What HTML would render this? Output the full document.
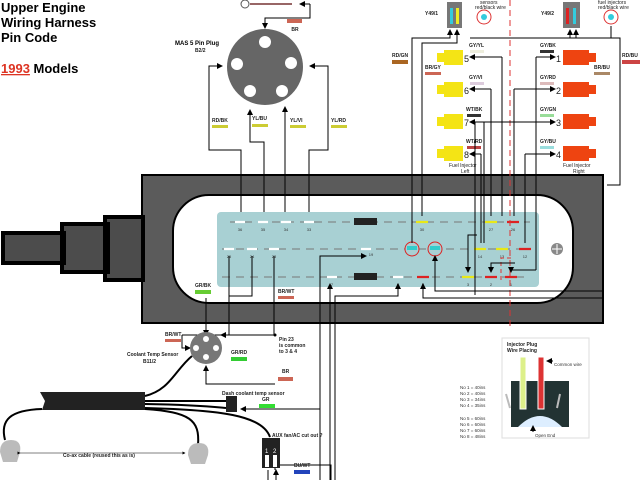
<!DOCTYPE html>
<html><head><meta charset="utf-8"><style>
body{margin:0;background:#fff}
svg{display:block;font-family:"Liberation Sans",sans-serif}
.t{font-size:5px;font-weight:bold;fill:#222}
</style></head><body>
<svg width="640" height="480" viewBox="0 0 640 480">
<defs>
<marker id="a" markerWidth="6" markerHeight="6" refX="5" refY="3" orient="auto"><path d="M0,0L6,3L0,6z" fill="#000"/></marker>
</defs>
<text x="1" y="12" font-size="13" font-weight="bold">Upper Engine</text>
<text x="1" y="27" font-size="13" font-weight="bold">Wiring Harness</text>
<text x="1" y="42" font-size="13" font-weight="bold">Pin Code</text>
<text x="1" y="73" font-size="13" font-weight="bold"><tspan fill="#d32" text-decoration="underline">1993</tspan> Models</text>

<rect x="142" y="175" width="461" height="148" fill="#5b5b5b" stroke="#000" stroke-width="2"/>
<rect x="173" y="195" width="400" height="108" rx="36" fill="#fff" stroke="#000" stroke-width="2"/>
<rect x="217" y="212" width="322" height="75" rx="4" fill="#a8d0d3"/>
<path d="M105,217H143V280H105zM62,224H108V272H62zM3,233H64V263H3z" fill="#4c4c4c" stroke="#000" stroke-width="4"/>

<g stroke="#777" stroke-width="1" stroke-dasharray="8,6">
<line x1="230" y1="222" x2="530" y2="222"/><line x1="222" y1="249" x2="530" y2="249"/><line x1="222" y1="277" x2="530" y2="277"/>
</g>
<g stroke-width="2.2">
<g stroke="#fff"><path d="M235,222h10M258,222h10M281,222h10M304,222h10M224,249h10M247,249h10M269,249h10M361,249h10M327,277h10M393,277h10"/></g>
<g stroke="#e8e817"><path d="M416,222h12M485,222h12M474,249h12M496,249h12M462,277h12"/></g>
<g stroke="#d22"><path d="M507,222h12M519,249h12M417,277h12M485,277h12M505,277h12"/></g>
</g>
<rect x="354" y="218" width="23" height="7" fill="#222"/><rect x="354" y="273" width="23" height="7" fill="#222"/>
<circle cx="412" cy="249" r="7" fill="#a8d0d3" stroke="#d22"/><rect x="407" y="246" width="10" height="4" fill="#3cc"/>
<circle cx="435" cy="249" r="7" fill="#a8d0d3" stroke="#d22"/><rect x="430" y="246" width="10" height="4" fill="#3cc"/>
<circle cx="557" cy="249" r="6" fill="#888"/><path d="M557,244v10M552,249h10" stroke="#fff"/>
<g font-size="4" fill="#333" text-anchor="middle">
<text x="240" y="231">36</text><text x="263" y="231">35</text><text x="286" y="231">34</text><text x="309" y="231">33</text><text x="422" y="231">30</text><text x="491" y="231">27</text><text x="513" y="231">26</text>
<text x="229" y="258">25</text><text x="252" y="258">24</text><text x="274" y="258">23</text><text x="371" y="256">19</text><text x="480" y="258">14</text><text x="502" y="258">13</text><text x="525" y="258">12</text>
<text x="332" y="286">7</text><text x="398" y="286">6</text><text x="423" y="286">5</text><text x="468" y="286">3</text><text x="491" y="286">2</text><text x="511" y="286">1</text>
</g>
<line x1="510" y1="0" x2="510" y2="330" stroke="#d33" stroke-dasharray="6,4"/>
<path d="M511,258h-10v22" stroke="#d33" fill="none" stroke-dasharray="4,3"/>

<circle cx="245" cy="4" r="4" fill="none" stroke="#555"/><line x1="250" y1="4" x2="292" y2="4" stroke="#733" stroke-width="1.5"/>
<path d="M310,4H300" stroke="#000" marker-end="url(#a)"/><path d="M310,4V18H265V28" stroke="#000" fill="none" marker-end="url(#a)"/>
<rect x="287" y="19" width="15" height="4" fill="#c65"/><text x="295" y="31" class="t" text-anchor="middle">BR</text>
<text x="175" y="45" font-size="6" font-weight="bold">MAS 5 Pin Plug</text><text x="195" y="52" class="t">B2/2</text>
<circle cx="265" cy="67" r="38" fill="#666"/>
<g fill="#fff"><circle cx="265" cy="42" r="6"/><circle cx="291" cy="63" r="6"/><circle cx="282" cy="91" r="6"/><circle cx="250" cy="91" r="6"/><circle cx="237" cy="64" r="6"/></g>
<g stroke="#000" fill="none">
<path d="M241,212V150H209V66H222" marker-end="url(#a)"/>
<path d="M264,212V142H250V110" marker-end="url(#a)"/>
<path d="M285,212V107" marker-end="url(#a)"/>
<path d="M309,212V150H328V66H310" marker-end="url(#a)"/>
</g>
<g class="t"><text x="212" y="122">RD/BK</text><text x="252" y="120">YL/BU</text><text x="290" y="122">YL/VI</text><text x="331" y="122">YL/RD</text></g>
<g fill="#cc3"><rect x="212" y="125" width="16" height="3"/><rect x="252" y="124" width="16" height="3"/><rect x="290" y="125" width="16" height="3"/><rect x="331" y="125" width="16" height="3"/></g>

<g fill="#f4e415"><rect x="444" y="50" width="19" height="15"/><rect x="437" y="53" width="8" height="9"/>
<rect x="444" y="82" width="19" height="15"/><rect x="437" y="85" width="8" height="9"/>
<rect x="444" y="114" width="19" height="15"/><rect x="437" y="117" width="8" height="9"/>
<rect x="444" y="146" width="19" height="15"/><rect x="437" y="149" width="8" height="9"/></g>
<g fill="#e41"><rect x="563" y="50" width="26" height="15"/><rect x="588" y="53" width="8" height="9"/>
<rect x="563" y="82" width="26" height="15"/><rect x="588" y="85" width="8" height="9"/>
<rect x="563" y="114" width="26" height="15"/><rect x="588" y="117" width="8" height="9"/>
<rect x="563" y="146" width="26" height="15"/><rect x="588" y="149" width="8" height="9"/></g>
<g font-size="9" fill="#222"><text x="464" y="62">5</text><text x="464" y="94">6</text><text x="464" y="126">7</text><text x="464" y="158">8</text>
<text x="556" y="62">1</text><text x="556" y="94">2</text><text x="556" y="126">3</text><text x="556" y="158">4</text></g>
<g class="t"><text x="469" y="47">GY/YL</text><text x="469" y="79">GY/VI</text><text x="466" y="111">WT/BK</text><text x="466" y="143">WT/RD</text>
<text x="540" y="47">GY/BK</text><text x="540" y="79">GY/RD</text><text x="540" y="111">GY/GN</text><text x="540" y="143">GY/BU</text>
<text x="392" y="57">RD/GN</text><text x="425" y="69">BR/GY</text><text x="594" y="69">BR/BU</text><text x="622" y="57">RD/BU</text>
<text x="449" y="167" font-weight="normal">Fuel Injector</text><text x="461" y="173" font-weight="normal">Left</text>
<text x="563" y="167" font-weight="normal">Fuel Injector</text><text x="573" y="173" font-weight="normal">Right</text>
<text x="425" y="15">Y49/1</text><text x="541" y="15">Y49/2</text>
<text x="480" y="4" font-weight="normal">sensors</text><text x="475" y="9" font-weight="normal">red/black wire</text>
<text x="598" y="4" font-weight="normal">fuel injectors</text><text x="598" y="9" font-weight="normal">red/black wire</text>
</g>
<rect x="470" y="50" width="14" height="3" fill="#eed"/><rect x="470" y="82" width="14" height="3" fill="#dcd"/><rect x="467" y="114" width="14" height="3" fill="#333"/><rect x="467" y="146" width="14" height="3" fill="#b44"/>
<rect x="540" y="50" width="14" height="3" fill="#333"/><rect x="540" y="82" width="14" height="3" fill="#dbb"/><rect x="540" y="114" width="14" height="3" fill="#9d9"/><rect x="540" y="146" width="14" height="3" fill="#9dd"/>
<rect x="392" y="60" width="16" height="4" fill="#a62"/><rect x="425" y="72" width="16" height="3" fill="#c65"/><rect x="594" y="72" width="16" height="3" fill="#a86"/><rect x="622" y="60" width="18" height="4" fill="#c44"/>
<rect x="447" y="2" width="15" height="26" fill="#777"/><rect x="450" y="8" width="3" height="16" fill="#3cd"/><rect x="456" y="8" width="3" height="16" fill="#ee2"/>
<rect x="563" y="2" width="17" height="26" fill="#777"/><rect x="566" y="8" width="3" height="16" fill="#d22"/><rect x="573" y="8" width="3" height="16" fill="#3cd"/>
<circle cx="484" cy="17" r="7" fill="#fff" stroke="#d33"/><circle cx="484" cy="17" r="3" fill="#3cd"/>
<circle cx="611" cy="17" r="7" fill="#fff" stroke="#d33"/><circle cx="611" cy="17" r="3" fill="#3cd"/>
<g stroke="#000" fill="none">
<path d="M412,243V38H450V30" marker-end="url(#a)"/><path d="M422,216V43H457V30" marker-end="url(#a)"/>
<path d="M570,38V30" marker-end="url(#a)"/><path d="M470,38H576V30" marker-end="url(#a)"/>
<path d="M500,38H620V185H607" /><path d="M611,26V38H620"/>
<path d="M502,57V216" /><path d="M502,57H470" marker-end="url(#a)"/>
<path d="M491,89V216"/><path d="M491,89H470" marker-end="url(#a)"/>
<path d="M484,122V243"/><path d="M484,122H470" marker-end="url(#a)"/>
<path d="M481,154V243"/><path d="M481,154H470" marker-end="url(#a)"/>
<path d="M536,57H555" marker-end="url(#a)"/><path d="M536,57V270"/>
<path d="M514,89H555" marker-end="url(#a)"/><path d="M514,89V216"/>
<path d="M525,154H555" marker-end="url(#a)"/><path d="M525,154V243"/>
<path d="M475,122H555" marker-end="url(#a)"/><path d="M475,122V295"/>
<path d="M477,235H468V272" marker-end="url(#a)"/><path d="M515,263H491V272" marker-end="url(#a)"/><path d="M536,270H511V272" marker-end="url(#a)"/>
<path d="M603,291H435V256" marker-end="url(#a)"/><path d="M603,298H423V284" marker-end="url(#a)"/>
<path d="M335,480V296H398V284" marker-end="url(#a)"/><path d="M330,480V284" marker-end="url(#a)"/>
<path d="M320,480V256H366" marker-end="url(#a)"/>
</g>
<text x="195" y="287" class="t">GR/BK</text><rect x="195" y="290" width="16" height="4" fill="#6c3"/>
<text x="278" y="293" class="t">BR/WT</text><rect x="278" y="296" width="16" height="3" fill="#c65"/>
<g stroke="#000" fill="none">
<path d="M206,298V335" marker-end="url(#a)"/>
<path d="M229,256V335H221" marker-end="url(#a)"/>
<path d="M252,256V296H229"/>
<path d="M274,256V335"/><path d="M182,335H275"/><path d="M182,335V348H190" marker-end="url(#a)"/>
<path d="M275,384H206V366" marker-end="url(#a)"/>
<path d="M320,409H241" marker-end="url(#a)"/>
<path d="M331,480V465H275V470"/>
</g>
<circle cx="275" cy="335" r="1.5"/>
<text x="165" y="336" class="t">BR/WT</text><rect x="165" y="339" width="16" height="3" fill="#c65"/>
<text x="127" y="356" class="t">Coolant Temp Sensor</text><text x="143" y="363" class="t">B11/2</text>
<text x="231" y="354" class="t">GR/RD</text><rect x="231" y="357" width="16" height="4" fill="#3c3"/>
<text x="279" y="341" class="t">Pin 23</text><text x="279" y="347" class="t">is common</text><text x="279" y="353" class="t">to 3 &amp; 4</text>
<text x="282" y="373" class="t">BR</text><rect x="278" y="377" width="15" height="4" fill="#c65"/>
<text x="222" y="395" class="t">Dash coolant temp sensor</text><text x="262" y="401" class="t">GR</text><rect x="259" y="404" width="16" height="4" fill="#3d3"/>
<text x="272" y="437" class="t">AUX fan/AC cut out ?</text>
<text x="294" y="467" class="t">BU/WT</text><rect x="294" y="470" width="16" height="4" fill="#24b"/>
<text x="63" y="457" class="t" font-weight="normal">Co-ax cable (reused this as is)</text>
<circle cx="206" cy="348" r="16" fill="#777"/>
<g fill="#fff"><circle cx="206" cy="339" r="3"/><circle cx="196" cy="348" r="3"/><circle cx="216" cy="348" r="3"/><circle cx="206" cy="357" r="3"/></g>
<path d="M40,392H145V410H42L45,401z" fill="#222"/>
<g stroke="#000" stroke-width="2" fill="none">
<path d="M145,396C170,390 175,370 192,356"/><path d="M145,401H228"/><path d="M145,404C200,405 215,407 226,408"/>
<path d="M145,408C220,410 262,415 270,437"/>
<path d="M42,409C10,410 0,420 5,440"/><path d="M145,409C190,412 200,420 198,445"/>
</g>
<rect x="226" y="396" width="11" height="16" fill="#222"/>
<path d="M0,452Q0,440 11,440Q22,440 20,452L17,462H3z" fill="#bbb"/><path d="M188,455Q188,443 199,443Q210,443 208,455L205,464H191z" fill="#bbb"/>
<path d="M20,453H185" stroke="#000" stroke-width="0.5" marker-start="url(#a)" marker-end="url(#a)"/>
<rect x="262" y="438" width="18" height="30" fill="#222"/><rect x="265" y="455" width="4" height="12" fill="#fff"/><rect x="273" y="455" width="4" height="12" fill="#fff"/>
<text x="265" y="453" font-size="6" fill="#fff">1</text><text x="273" y="453" font-size="6" fill="#fff">2</text>
<path d="M268,480V470M276,480V470" stroke="#000" marker-end="url(#a)"/>
<rect x="502" y="338" width="87" height="100" fill="#fff" stroke="#ddd"/>
<text x="507" y="346" class="t">Injector Plug</text><text x="507" y="352" class="t">Wire Placing</text>
<rect x="511" y="381" width="58" height="46" fill="#233"/>
<path d="M506,394L510,408M560,394L557,408" stroke="#bbb" stroke-width="2"/>
<rect x="520" y="357" width="6" height="52" fill="#ddf08a" stroke="#fff"/><rect x="538" y="357" width="6" height="52" fill="#d33" stroke="#fff" stroke-width="1"/>
<path d="M518,427Q540,405 562,427z" fill="#def"/>
<text x="554" y="366" font-size="4.5" fill="#333">Common wire</text><path d="M553,361H547" stroke="#000" marker-end="url(#a)"/>
<text x="535" y="437" font-size="4.5" fill="#333">Open End</text><path d="M533,432V426" stroke="#000" marker-end="url(#a)"/>
<g font-size="4.5" fill="#333"><text x="460" y="389">No 1 = 40ins</text><text x="460" y="395">No 2 = 40ins</text><text x="460" y="401">No 3 = 34ins</text><text x="460" y="407">No 4 = 35ins</text>
<text x="460" y="420">No 5 = 60ins</text><text x="460" y="426">No 6 = 60ins</text><text x="460" y="432">No 7 = 60ins</text><text x="460" y="438">No 8 = 48ins</text></g>
</svg>
</body></html>
